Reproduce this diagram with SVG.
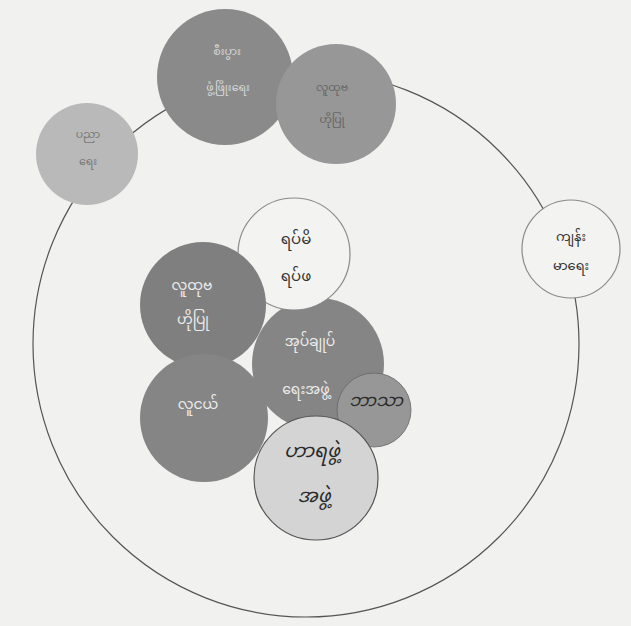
<svg xmlns="http://www.w3.org/2000/svg" width="631" height="626" viewBox="0 0 631 626">
<style>
text{font-family:"Noto Sans Myanmar","Myanmar Text","Padauk","Noto Sans","DejaVu Sans",sans-serif;text-anchor:middle;dominant-baseline:central}
.dark{fill:#8a8a8a}
.mid{fill:#979797}
.light{fill:#b9b9b9}
.pale{fill:#f3f3f2;stroke:#8a8a8a;stroke-width:1.2}
.hand{fill:#d4d4d4;stroke:#555;stroke-width:1.2}
.wt{fill:#ececec;font-size:14px}
.st{fill:#d8d8d8;font-size:11px}
.bt{fill:#333;font-size:15px}
.ht{fill:#2a2a2a;font-size:19px;font-style:italic}
</style>
<rect width="631" height="626" fill="#f1f1ef"/>
<g id="connectors">
<circle cx="306" cy="344" r="273" fill="none" stroke="#555" stroke-width="1.2"/>
</g>
<g id="education">
<circle class="light" cx="87" cy="154" r="51"/>
<text class="st" x="88" y="135" style="fill:#777">ပညာ</text>
<text class="st" x="88" y="162" style="fill:#777">ရေး</text>
</g>
<g id="economy">
<circle class="dark" cx="225" cy="77" r="68"/>
<text class="st" x="227" y="52">စီးပွား</text>
<text class="st" x="228" y="88">ဖွံ့ဖြိုးရေး</text>
</g>
<g id="people-top">
<circle class="mid" cx="336" cy="104" r="60"/>
<text class="st" x="332" y="88" style="fill:#666">လူထုဗ</text>
<text class="st" x="332" y="120" style="fill:#666">ဟိုပြု</text>
</g>
<g id="health">
<circle class="pale" cx="571" cy="249" r="49"/>
<text class="bt" x="571" y="238" style="font-size:13px">ကျန်း</text>
<text class="bt" x="571" y="267" style="font-size:13px">မာရေး</text>
</g>
<g id="administration">
<circle class="dark" cx="318" cy="364" r="66" style="fill:#858585"/>
<text class="wt" x="310" y="342">အုပ်ချုပ်</text>
<text class="wt" x="306" y="390">ရေးအဖွဲ့</text>
</g>
<g id="elders">
<circle class="pale" cx="294" cy="254" r="56"/>
<text class="bt" x="296" y="240">ရပ်မိ</text>
<text class="bt" x="296" y="277">ရပ်ဖ</text>
</g>
<g id="people-inner">
<circle class="dark" cx="203" cy="305" r="63" style="fill:#7f7f7f"/>
<text class="wt" x="192" y="286">လူထုဗ</text>
<text class="wt" x="193" y="320">ဟိုပြု</text>
</g>
<g id="youth">
<circle class="dark" cx="204" cy="418" r="64" style="fill:#858585"/>
<text class="wt" x="198" y="405">လူငယ်</text>
</g>
<g id="religion">
<circle class="mid" cx="374" cy="410" r="37" style="stroke:#666;stroke-width:0.8"/>
<text class="ht" x="376" y="402" style="font-size:17px">ဘာသာ</text>
</g>
<g id="association">
<circle class="hand" cx="316" cy="478" r="62"/>
<text class="ht" x="312" y="452">ဟာရဖွဲ့</text>
<text class="ht" x="314" y="497">အဖွဲ့</text>
</g>
</svg>
